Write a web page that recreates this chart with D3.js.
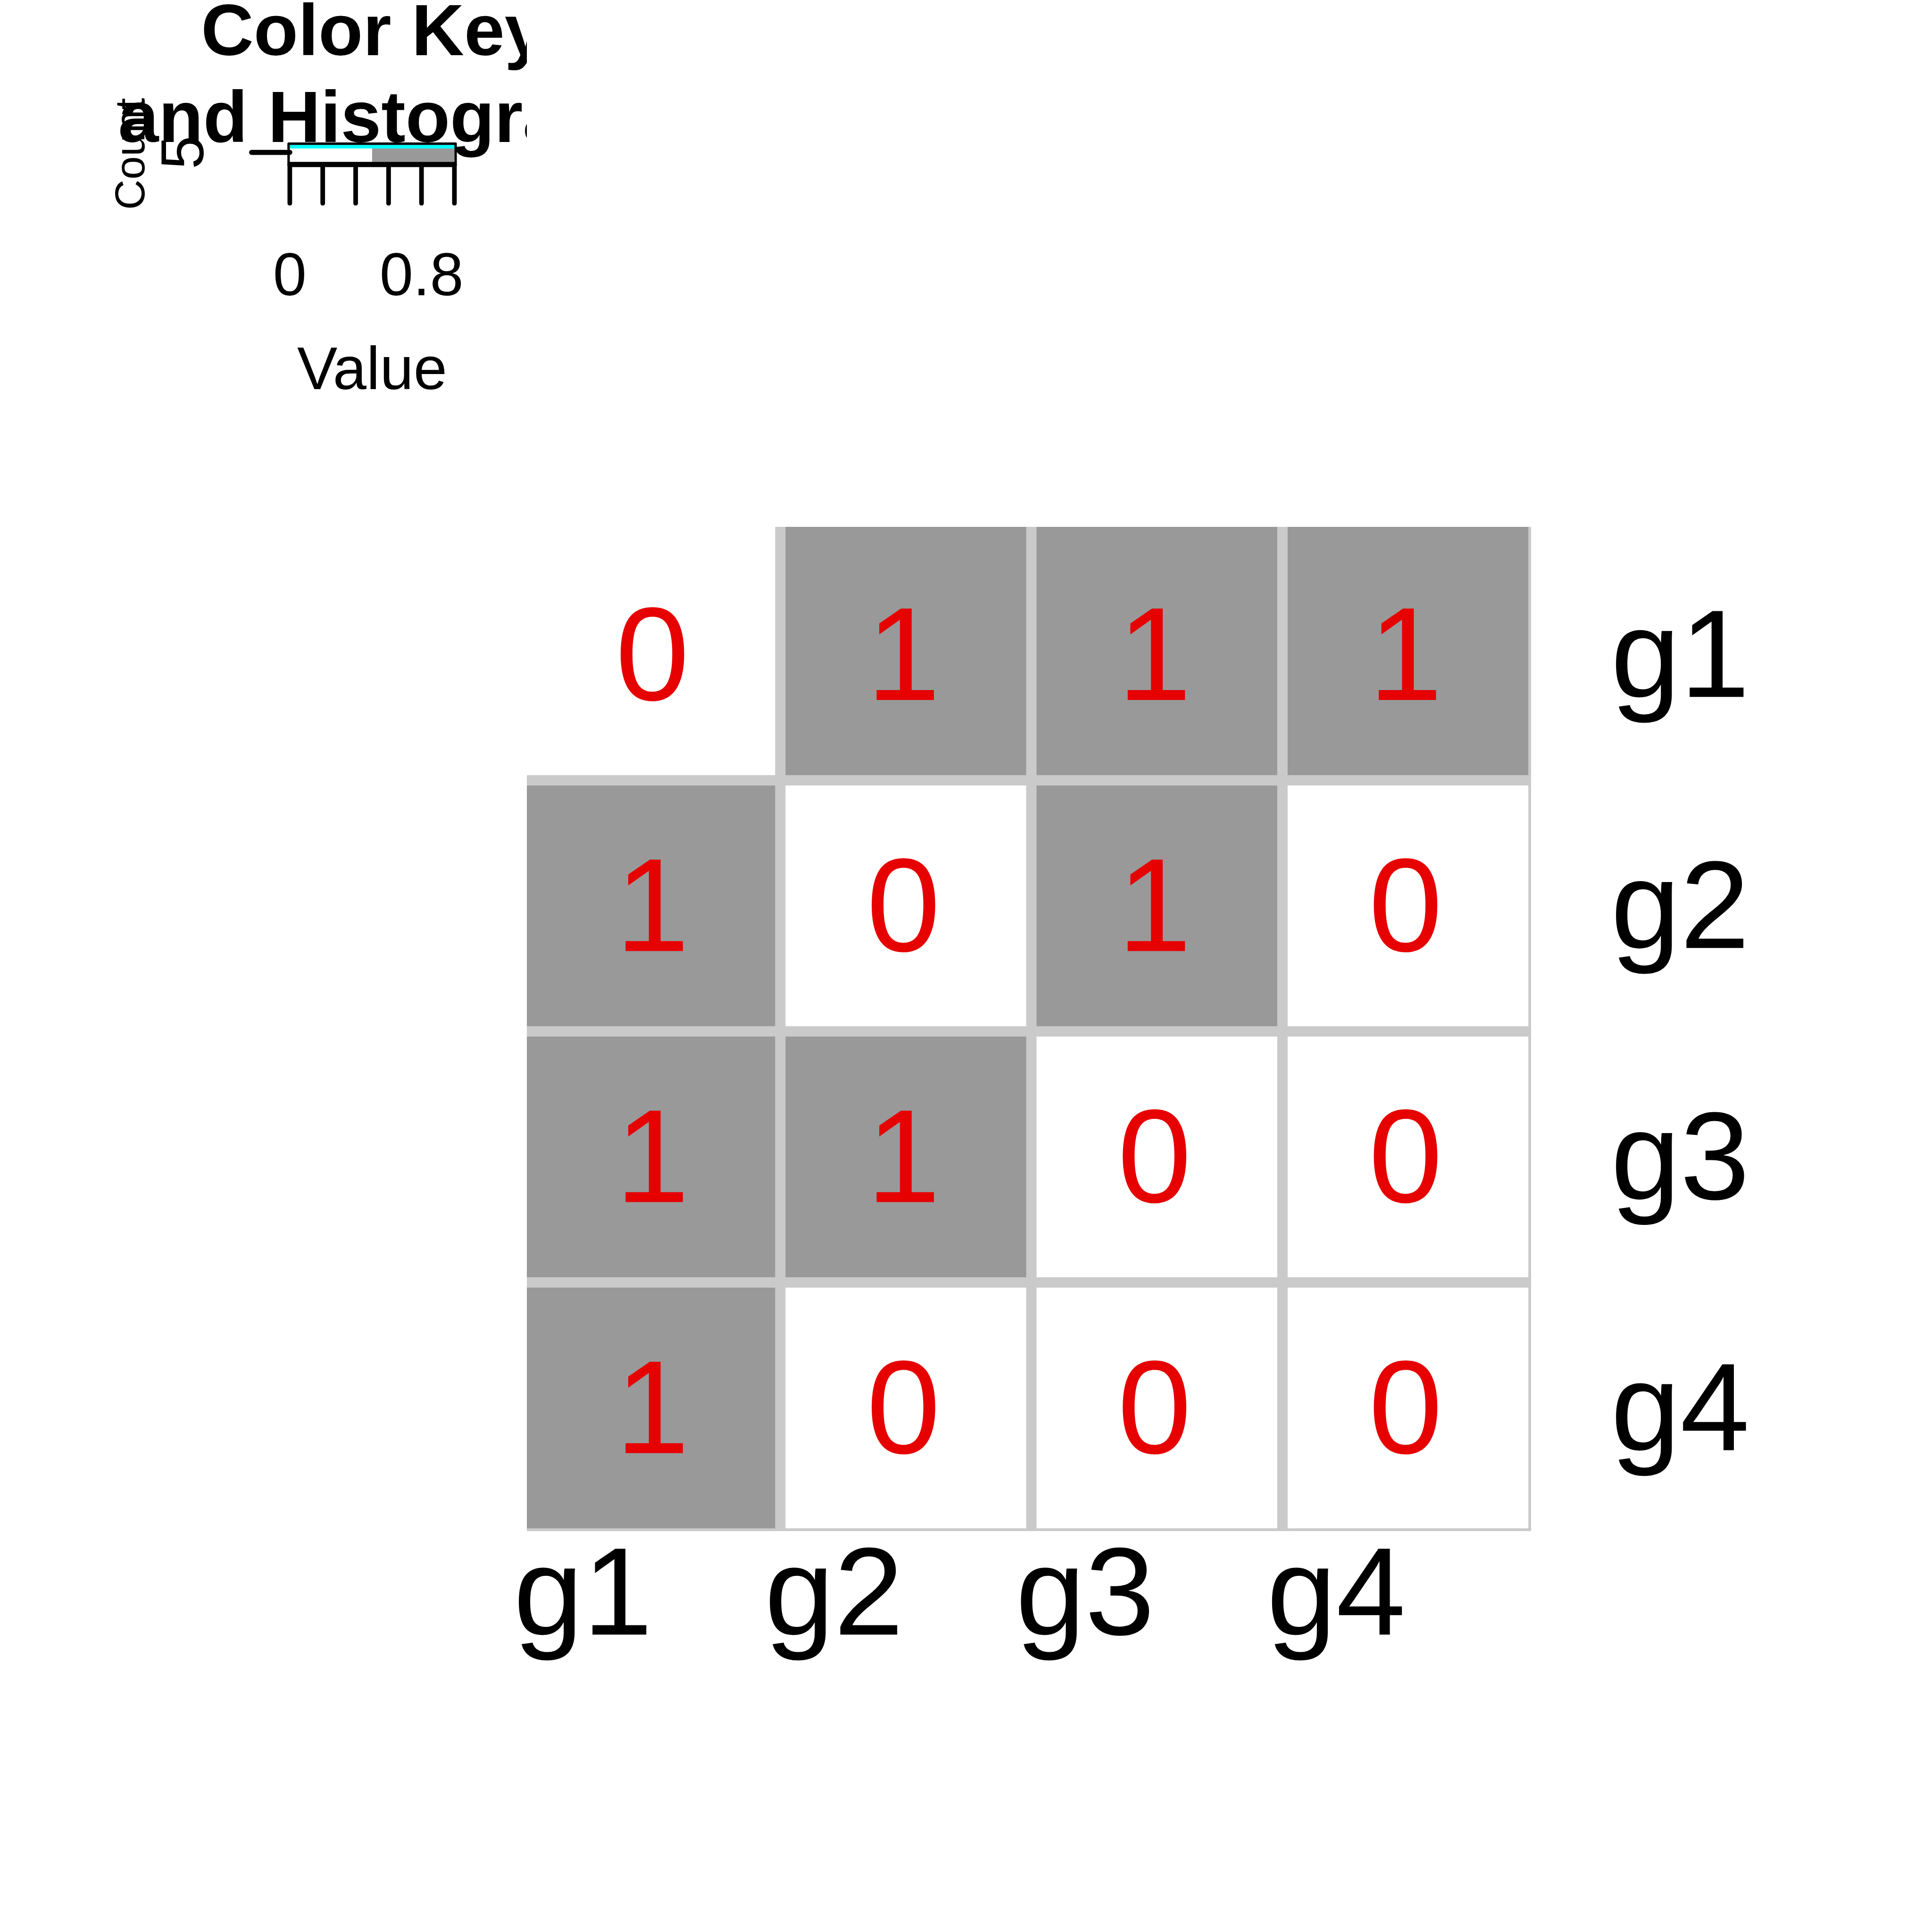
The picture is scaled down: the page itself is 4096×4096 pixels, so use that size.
<!DOCTYPE html>
<html>
<head>
<meta charset="utf-8">
<script src="https://cdn.jsdelivr.net/npm/d3@7"></script>
<style>
  html, body { margin: 0; padding: 0; background: #ffffff; }
  svg { display: block; }
  text { font-family: "Liberation Sans", Arial, Helvetica, sans-serif; }
</style>
</head>
<body>
<div id="chart"></div>
<script>
// ---------------- data ----------------
const rowLabels = ["g1", "g2", "g3", "g4"];
const colLabels = ["g1", "g2", "g3", "g4"];
const rowG1 = [0, 1, 1, 1];
const rowG2 = [1, 0, 1, 0];
const rowG3 = [1, 1, 0, 0];
const rowG4 = [1, 0, 0, 0];
const matrixRows = [rowG1, rowG2, rowG3, rowG4];

const keyBreaks = [0, 0.5, 1];
const keyColors = ["#ffffff", "#999999"];
const histCounts = [8, 8];
const keyTicks = [0, 0.2, 0.4, 0.6, 0.8, 1];
const keyTickLabels = ["0", "", "", "", "0.8", ""];
const countTicks = [5];
const countTickLabels = ["5"];
const keyTitleLines = ["Color Key", "and Histogram"];

// ---------------- drawing (reference coordinates 4800x4800, shown at 4096) ----------------
const W = 4800;
const svg = d3.select("#chart").append("svg")
  .attr("width", 4096).attr("height", 4096)
  .attr("viewBox", `0 0 ${W} ${W}`);

svg.append("rect").attr("width", W).attr("height", W).attr("fill", "#ffffff");

const defs = svg.append("defs");

// ---------- heatmap ----------
const gridL = 1309, gridR = 3804;
const x = d3.scaleBand().domain(colLabels).range([gridL, gridR]).padding(0);
const y = d3.scaleBand().domain(rowLabels).range([gridL, gridR]).padding(0);
const cellColor = d3.scaleThreshold().domain([keyBreaks[1]]).range(keyColors);

defs.append("clipPath").attr("id", "gridClip")
  .append("rect").attr("x", gridL).attr("y", gridL)
  .attr("width", gridR - gridL).attr("height", gridR - gridL);

const cells = [];
matrixRows.forEach((row, i) => row.forEach((v, j) => cells.push({ r: rowLabels[i], c: colLabels[j], v })));

const heat = svg.append("g");
heat.selectAll("rect.cell").data(cells).join("rect")
  .attr("class", "cell")
  .attr("x", d => x(d.c)).attr("y", d => y(d.r))
  .attr("width", x.bandwidth()).attr("height", y.bandwidth())
  .attr("fill", d => cellColor(d.v));

// separators (colsep = rowsep = 1..4)
const sepColor = "#cacaca";
const sepBefore = 6.9, sepAfter = 18.8;
const colBounds = colLabels.map((c, k) => x(c) + x.bandwidth());
const rowBounds = rowLabels.map((r, k) => y(r) + y.bandwidth());
const sepG = heat.append("g").attr("clip-path", "url(#gridClip)");
sepG.selectAll("rect.csep").data(colBounds).join("rect")
  .attr("x", b => b - sepBefore).attr("y", gridL)
  .attr("width", sepBefore + sepAfter).attr("height", gridR - gridL)
  .attr("fill", sepColor);
sepG.selectAll("rect.rsep").data(rowBounds).join("rect")
  .attr("x", gridL).attr("y", b => b - sepBefore)
  .attr("width", gridR - gridL).attr("height", sepBefore + sepAfter)
  .attr("fill", sepColor);

// cell notes
const noteSize = 330;
heat.selectAll("text.note").data(cells).join("text")
  .attr("class", "note")
  .attr("x", d => x(d.c) + x.bandwidth() / 2)
  .attr("y", d => y(d.r) + y.bandwidth() / 2 + 0.358 * noteSize)
  .attr("text-anchor", "middle")
  .attr("font-size", noteSize)
  .attr("fill", "#e60000")
  .text(d => d.v);

// row labels (right)
const labSize = 310;
heat.selectAll("text.rowlab").data(rowLabels).join("text")
  .attr("x", 4002)
  .attr("y", d => y(d) + y.bandwidth() / 2 + 0.357 * labSize)
  .attr("font-size", labSize).attr("fill", "#000")
  .text(d => d);

// column labels (bottom), right-aligned at column centre
heat.selectAll("text.collab").data(colLabels).join("text")
  .attr("x", d => x(d) + x.bandwidth() / 2)
  .attr("y", 4061)
  .attr("text-anchor", "end")
  .attr("font-size", labSize).attr("fill", "#000")
  .text(d => d);

// ---------- colour key & histogram ----------
const kx = d3.scaleLinear().domain([0, 1]).range([720, 1129]);
const ky = d3.scaleLinear().domain([0, 1]).range([402.2, 362.5]);
const key = svg.append("g");

// colour band
key.selectAll("rect.band").data(keyColors).join("rect")
  .attr("x", (d, i) => kx(keyBreaks[i]))
  .attr("y", ky(1))
  .attr("width", (d, i) => kx(keyBreaks[i + 1]) - kx(keyBreaks[i]))
  .attr("height", ky(0) - ky(1))
  .attr("fill", d => d);

// histogram (step line, cyan)
const maxCount = d3.max(histCounts);
const histPts = [];
histCounts.forEach((c, i) => {
  histPts.push([keyBreaks[i], c / maxCount * 0.95]);
  histPts.push([keyBreaks[i + 1], c / maxCount * 0.95]);
});
key.append("path")
  .attr("d", d3.line().x(d => kx(d[0])).y(d => ky(d[1]))(histPts))
  .attr("fill", "none").attr("stroke", "#00ffff").attr("stroke-width", 9);

// frame
key.append("rect")
  .attr("x", kx(0) - 3).attr("y", 357)
  .attr("width", kx(1) - kx(0) + 6).attr("height", 405.3 - 357)
  .attr("fill", "none").attr("stroke", "#000").attr("stroke-width", 6)
  .attr("stroke-linejoin", "round");

// x axis
const axY = 409;
key.append("line")
  .attr("x1", kx(0)).attr("x2", kx(1)).attr("y1", axY).attr("y2", axY)
  .attr("stroke", "#000").attr("stroke-width", 12.5).attr("stroke-linecap", "round");
key.selectAll("line.xt").data(keyTicks).join("line")
  .attr("x1", d => kx(d)).attr("x2", d => kx(d))
  .attr("y1", axY).attr("y2", 505)
  .attr("stroke", "#000").attr("stroke-width", 11.5).attr("stroke-linecap", "round");
key.selectAll("text.xtl").data(keyTicks).join("text")
  .attr("x", d => kx(d)).attr("y", 734)
  .attr("text-anchor", "middle").attr("font-size", 150).attr("fill", "#000")
  .text((d, i) => keyTickLabels[i]);
key.append("text")
  .attr("x", (kx(0) + kx(1)) / 2).attr("y", 966.7)
  .attr("text-anchor", "middle").attr("font-size", 150).attr("fill", "#000")
  .text("Value");

// y axis (count)
key.selectAll("line.yt").data(countTicks).join("line")
  .attr("x1", 625).attr("x2", kx(0))
  .attr("y1", d => ky(d / maxCount * 0.95)).attr("y2", d => ky(d / maxCount * 0.95))
  .attr("stroke", "#000").attr("stroke-width", 12.5).attr("stroke-linecap", "round");
key.selectAll("text.ytl").data(countTicks).join("text")
  .attr("transform", d => `translate(505,${ky(d / maxCount * 0.95)}) rotate(-90)`)
  .attr("text-anchor", "middle").attr("font-size", 150).attr("fill", "#000")
  .text((d, i) => countTickLabels[i]);
key.append("text")
  .attr("transform", `translate(359,${ky(0.5)}) rotate(-90)`)
  .attr("text-anchor", "middle").attr("font-size", 104).attr("fill", "#000")
  .text("Count");

// title (clipped to key figure region)
defs.append("clipPath").attr("id", "keyClip")
  .append("rect").attr("x", 0).attr("y", 0).attr("width", gridL).attr("height", gridL);
key.append("g").attr("clip-path", "url(#keyClip)")
  .selectAll("text.title").data(keyTitleLines).join("text")
  .attr("x", 927)
  .attr("y", (d, i) => 136.8 + i * 215.7)
  .attr("text-anchor", "middle")
  .attr("font-size", 181).attr("font-weight", "bold").attr("fill", "#000")
  .text(d => d);
</script>
</body>
</html>
